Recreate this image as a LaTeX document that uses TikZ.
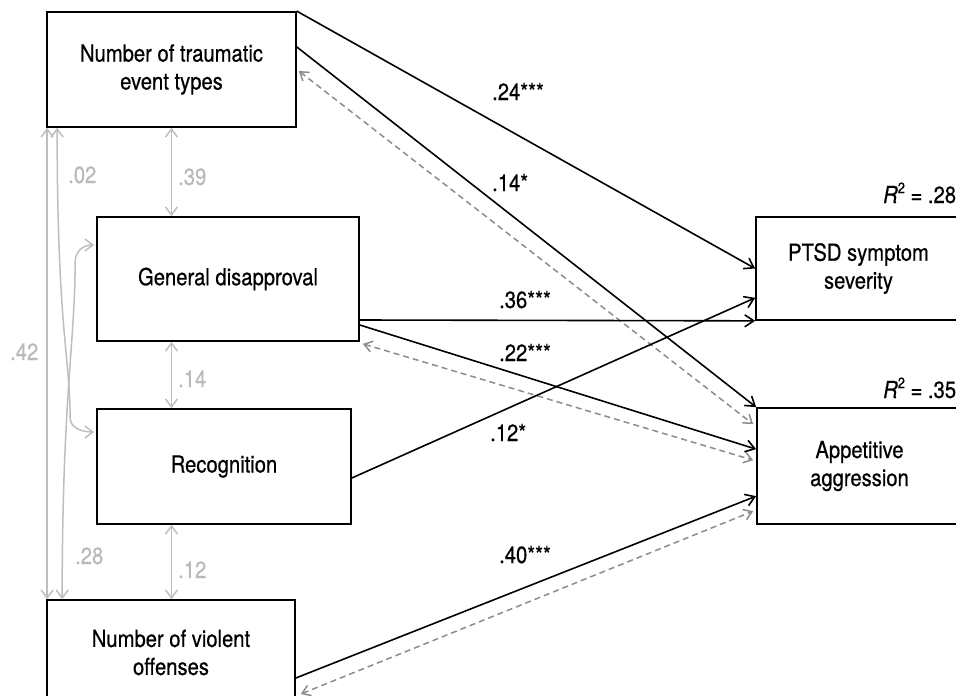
\documentclass[tikz,border=0pt]{standalone}
\usepackage{fontspec}
\setmainfont[FakeStretch=0.86,FakeBold=0.5]{TeX Gyre Heros}
\usetikzlibrary{arrows.meta,calc}
\definecolor{corrgray}{RGB}{190,190,190}
\definecolor{dashgray}{RGB}{140,140,140}
\definecolor{labgray}{RGB}{185,185,185}
\newcommand{\rsq}{\textit{R}\raisebox{0.42em}{\fontsize{15}{15}\selectfont 2}}
\begin{document}
\begin{tikzpicture}[x=1pt,y=-1pt,
  box/.style={draw=black,line width=1.7pt,inner sep=0pt,align=center,font=\fontsize{23.5}{28}\selectfont},
  reg/.style={draw=black,line width=1.6pt,-{Straight Barb[length=9pt,width=12pt]}},
  back/.style={draw=dashgray,line width=1.5pt,dash pattern=on 6pt off 4pt,{Straight Barb[length=8pt,width=11pt]}-{Straight Barb[length=8pt,width=11pt]}},
  corr/.style={draw=corrgray,line width=1.5pt,{Straight Barb[length=8pt,width=12pt]}-{Straight Barb[length=8pt,width=12pt]}},
  coef/.style={anchor=base west,inner sep=0pt,font=\fontsize{23.5}{28}\selectfont},
  gcoef/.style={coef,text=labgray}
]
\useasboundingbox (0,0) rectangle (956,696);
\clip (0,0) rectangle (956,696);

% boxes
\node[box,minimum width=249pt,minimum height=115pt] (b1) at (171.5,69.5) {Number of traumatic\\event types};
\node[box,minimum width=262pt,minimum height=124pt] (b2) at (228,279) {General disapproval};
\node[box,minimum width=254pt,minimum height=115pt] (b3) at (224,466.5) {Recognition};
\node[box,minimum width=248pt,minimum height=105pt] (b4) at (171,652.5) {Number of violent\\offenses};
\node[box,minimum width=205pt,minimum height=103pt] (p) at (858.5,268.5) {PTSD symptom\\severity};
\node[box,minimum width=205pt,minimum height=116pt] (a) at (859.5,466) {Appetitive\\aggression};

% R squared
\node[coef] (r1) at (883,203) {\rsq{} = .28};
\node[coef] (r2) at (883,398) {\rsq{} = .35};

% regression paths
\draw[reg] (b1.north east) -- (p.west);
\draw[reg] ([yshift=22.5pt]b1.east) -- (a.north west);
\draw[back] ([xshift=2pt,yshift=-1.5pt]b1.east) -- ([xshift=-3pt,yshift=-17pt]a.north west);
\draw[reg] ([yshift=-41pt]b2.east) -- (p.south west);
\draw[reg] ([yshift=-46pt]b2.east) -- ([yshift=-42pt]a.north west);
\draw[back] ([xshift=3pt,yshift=-2pt]b2.south east) -- ([xshift=-3pt,yshift=-53pt]a.north west);
\draw[reg] ([yshift=-11.5pt]b3.east) -- ([yshift=23pt]p.south west);
\draw[reg] ([yshift=-25.5pt]b4.east) -- ([yshift=-89pt]a.north west);
\draw[back] ([xshift=5pt,yshift=-41.5pt]b4.east) -- ([xshift=-3pt,yshift=-104pt]a.north west);

% coefficients
\node[coef] (c1) at (492,100) {.24***};
\node[coef] (c2) at (492,191) {.14*};
\node[coef] (c3) at (499,308) {.36***};
\node[coef] (c4) at (499,361) {.22***};
\node[coef] (c5) at (490,441) {.12*};
\node[coef] (c6) at (499,563) {.40***};

% correlations
\draw[corr] (b1.south) -- (b1.south |- b2.north);
\draw[corr] (b1.south |- b2.south) -- (b1.south |- b3.north);
\draw[corr] (b1.south |- b3.south) -- (b1.south |- b4.north);
\draw[corr] ([xshift=1pt]b1.south west) -- ([xshift=1pt]b4.north west);
\draw[corr] ([xshift=11pt]b1.south west) .. controls +(0,200) and +(0,-60) .. ([xshift=-26pt,yshift=48.5pt]b3.west) .. controls +(0,10) and +(-12,0) .. ([xshift=-2pt,yshift=34.5pt]b3.west);
\draw[corr] ([xshift=16pt]b4.north west) .. controls +(0,-200) and +(0,80) .. ([xshift=-21pt,yshift=17pt]b2.west) .. controls +(0,-10) and +(-12,0) .. ([xshift=-2pt,yshift=34pt]b2.west);

\node[gcoef] (g1) at (178,185) {.39};
\node[gcoef] (g2) at (68,183) {.02};
\node[gcoef] (g3) at (178,387) {.14};
\node[gcoef] (g4) at (178,578) {.12};
\node[gcoef] (g5) at (10,360) {.42};
\node[gcoef] (g6) at (75,564) {.28};
\end{tikzpicture}
\end{document}
